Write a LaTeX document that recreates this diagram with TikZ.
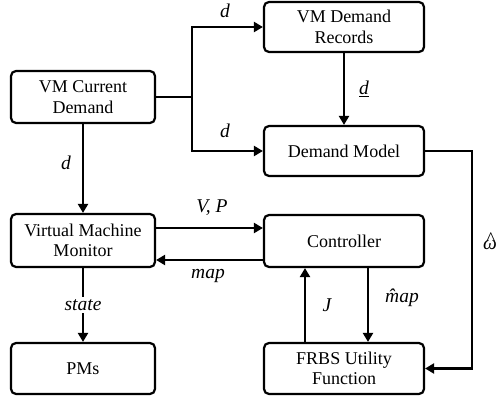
\documentclass[tikz,border=0pt]{standalone}
\usepackage{fontspec}
\setmainfont{Liberation Serif}
\usetikzlibrary{arrows.meta}
\begin{document}
\begin{tikzpicture}[x=1pt,y=-1pt,
  box/.style={draw,line width=2.2pt,rounded corners=5pt,align=center,
    font=\fontsize{18}{20.5}\selectfont,inner sep=0pt},
  lbox/.style={box,minimum width=144pt},
  rbox/.style={box,minimum width=160pt},
  conn/.style={line width=2.4pt},
  arr/.style={conn,-{Triangle[length=9pt,width=10pt]}},
  lab/.style={font=\fontsize{19.5}{22}\selectfont\itshape,inner sep=1pt}]
\useasboundingbox[fill=white] (0,0) rectangle (499,401);
\node[lbox,minimum height=52pt] (vmcd) at (83,97) {VM Current\\Demand};
\node[rbox,minimum height=50pt] (rec) at (344,27) {VM Demand\\Records};
\node[rbox,minimum height=50pt] (dm) at (344,151) {Demand Model};
\node[lbox,minimum height=53pt] (vmm) at (83,240.5) {Virtual Machine\\Monitor};
\node[rbox,minimum height=52pt] (ctrl) at (344,241) {Controller};
\node[lbox,minimum height=51pt] (pms) at (83,368.5) {PMs};
\node[rbox,minimum height=51pt] (frbs) at (344,368.5) {FRBS Utility\\Function};
\coordinate (j) at (192,97);
\draw[conn] (vmcd.east) -- (j);
\draw[arr] (j) |- (rec.west);
\draw[arr] (j) |- (dm.west);
\draw[arr] (rec.south) -- (dm.north);
\draw[arr] (vmcd.south) -- (vmm.north);
\draw[arr] (vmm.east |- 0,228) -- (ctrl.west |- 0,228);
\draw[arr] (ctrl.west |- 0,260) -- (vmm.east |- 0,260);
\draw[arr] (vmm.south) -- node[lab,fill=white,inner sep=2pt] {state} (pms.north);
\draw[arr] (frbs.north -| 305,0) -- (ctrl.south -| 305,0);
\draw[arr] (ctrl.south -| 368,0) -- (frbs.north -| 368,0);
\draw[arr] (dm.east) -- ++(47,0) |- (frbs.east);
\node[lab] (l1) at (225,11) {d};
\node[lab] (l2) at (225,131) {d};
\node[lab] (l3) at (66,163) {d};
\node[lab] (l4) at (364,89) {\underline{d}};
\node[lab] (l5) at (212,208) {V, P};
\node[lab] (l6) at (208,276) {map};
\node[lab] (l7) at (327,305) {J};
\node[lab] (l8) at (402,298) {\^{m}ap};
\node[lab] (l9) at (490,245) {\ooalign{ω\cr\hidewidth\raisebox{0.45ex}{\^{}}\hidewidth\cr}};
\end{tikzpicture}
\end{document}
